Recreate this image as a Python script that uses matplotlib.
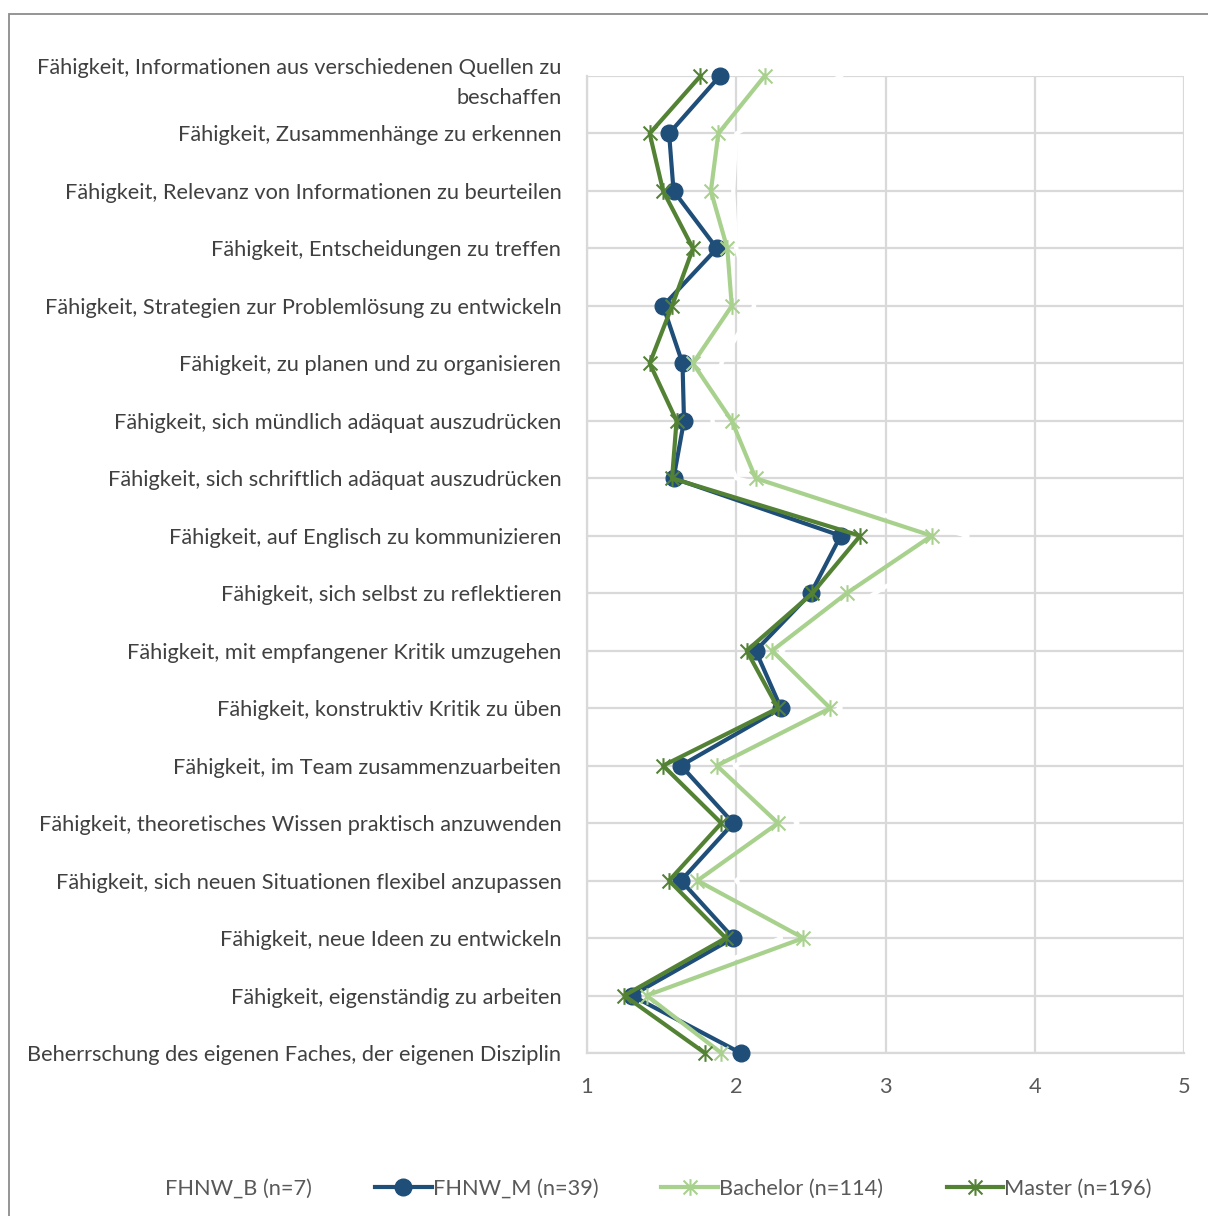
import numpy as np
import matplotlib.pyplot as plt
from matplotlib.path import Path
from matplotlib.patches import Rectangle

plt.rcParams['font.family'] = ['Lato', 'DejaVu Sans']

skills = [
    'Fähigkeit, Informationen aus verschiedenen Quellen zu\nbeschaffen',
    'Fähigkeit, Zusammenhänge zu erkennen',
    'Fähigkeit, Relevanz von Informationen zu beurteilen',
    'Fähigkeit, Entscheidungen zu treffen',
    'Fähigkeit, Strategien zur Problemlösung zu entwickeln',
    'Fähigkeit, zu planen und zu organisieren',
    'Fähigkeit, sich mündlich adäquat auszudrücken',
    'Fähigkeit, sich schriftlich adäquat auszudrücken',
    'Fähigkeit, auf Englisch zu kommunizieren',
    'Fähigkeit, sich selbst zu reflektieren',
    'Fähigkeit, mit empfangener Kritik umzugehen',
    'Fähigkeit, konstruktiv Kritik zu üben',
    'Fähigkeit, im Team zusammenzuarbeiten',
    'Fähigkeit, theoretisches Wissen praktisch anzuwenden',
    'Fähigkeit, sich neuen Situationen flexibel anzupassen',
    'Fähigkeit, neue Ideen zu entwickeln',
    'Fähigkeit, eigenständig zu arbeiten',
    'Beherrschung des eigenen Faches, der eigenen Disziplin',
]

fhnw_b = [2.70, 2.00, 1.98, 2.00, 2.12, 1.90, 1.84, 2.00, 3.55,
          2.93, 2.30, 2.70, 1.99, 2.41, 2.00, 2.30, 1.40, 2.00]
fhnw_m = [1.89, 1.55, 1.58, 1.87, 1.51, 1.64, 1.65, 1.58, 2.70,
          2.50, 2.13, 2.30, 1.63, 1.98, 1.63, 1.98, 1.30, 2.03]
bachelor = [2.19, 1.88, 1.83, 1.94, 1.97, 1.71, 1.97, 2.13, 3.31,
            2.74, 2.24, 2.63, 1.87, 2.28, 1.74, 2.45, 1.40, 1.90]
master = [1.76, 1.42, 1.51, 1.71, 1.57, 1.42, 1.60, 1.57, 2.83,
          2.51, 2.07, 2.28, 1.51, 1.90, 1.55, 1.93, 1.25, 1.79]

names = ['FHNW_B (n=7)', 'FHNW_M (n=39)', 'Bachelor (n=114)', 'Master (n=196)']
xticks = [1, 2, 3, 4, 5]

# star marker: an x with a vertical bar through it
star = Path([(-1, -1), (1, 1), (-1, 1), (1, -1), (0, -1.2), (0, 1.2)],
            [Path.MOVETO, Path.LINETO, Path.MOVETO, Path.LINETO, Path.MOVETO, Path.LINETO])

fig = plt.figure(figsize=(12.08, 12.16), dpi=100)
fig.patches.append(Rectangle((9 / 1208, -0.01), 1.0, 1 - 14 / 1216 + 0.01,
                             transform=fig.transFigure, fill=False,
                             edgecolor='#8c8c8c', linewidth=1.3))

ax = fig.add_axes([587 / 1208, 1 - 1053 / 1216, 597 / 1208, 977 / 1216])
y = np.arange(len(skills))

ax.plot(fhnw_b, y, color='white', lw=3, zorder=3, clip_on=False, label=names[0])
ax.plot(fhnw_m, y, color='#1F4E79', lw=3, marker='o', ms=12, zorder=4,
        clip_on=False, label=names[1])
ax.plot(bachelor, y, color='#A9D18E', lw=3, marker=star, ms=12, mew=1.5,
        zorder=4, clip_on=False, label=names[2])
ax.plot(master, y, color='#548235', lw=3, marker=star, ms=12, mew=1.5,
        zorder=5, clip_on=False, label=names[3])

ax.set_xlim(1, 5)
ax.set_ylim(len(skills) - 1, 0)
ax.set_xticks(xticks)
ax.set_yticks(y)
ax.set_yticklabels(skills, ha='right', multialignment='right', linespacing=1.6)
ax.grid(True, color='#d9d9d9', lw=1.6, zorder=0)
ax.set_axisbelow(True)
for s in ['top', 'right']:
    ax.spines[s].set_visible(False)
for s in ['left', 'bottom']:
    ax.spines[s].set_color('#d9d9d9')
    ax.spines[s].set_linewidth(1.6)
ax.tick_params(axis='y', length=0, pad=18.5, labelsize=15.7, labelcolor='#404040')
ax.tick_params(axis='x', length=0, pad=17, labelsize=15.7, labelcolor='#595959')

fig.legend(loc='center', bbox_to_anchor=(0.521, 1 - 1189 / 1216), ncol=4,
           frameon=False, fontsize=15.7, handlelength=2.6, handletextpad=0.05,
           columnspacing=2.9, labelcolor='#595959')

fig.savefig('out.png', dpi=100, facecolor='white')
